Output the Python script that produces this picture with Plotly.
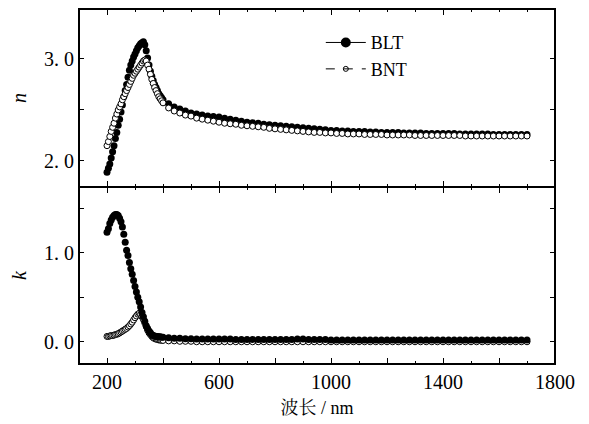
import plotly.graph_objects as go

wavelength = [200, 205, 210, 215, 220, 225, 230, 235, 240, 245, 250, 255, 260, 265, 270, 275, 280, 285, 290, 295,
              300, 305, 310, 315, 320, 325, 330, 335, 340, 345, 350, 355, 360, 365, 370, 375, 380, 385, 390, 395, 400,
              420, 440, 460, 480, 500, 520, 540, 560, 580, 600, 620, 640, 660, 680, 700, 720, 740, 760, 780, 800,
              820, 840, 860, 880, 900, 920, 940, 960, 980, 1000, 1020, 1040, 1060, 1080, 1100, 1120, 1140, 1160, 1180,
              1200, 1220, 1240, 1260, 1280, 1300, 1320, 1340, 1360, 1380, 1400, 1420, 1440, 1460, 1480, 1500, 1520,
              1540, 1560, 1580, 1600, 1620, 1640, 1660, 1680, 1700]

n_blt = [1.89, 1.93, 1.97, 2.03, 2.09, 2.15, 2.22, 2.28, 2.35, 2.41, 2.48, 2.55, 2.63, 2.69, 2.75, 2.82, 2.89, 2.94, 2.98, 3.02,
         3.05, 3.08, 3.11, 3.13, 3.15, 3.16, 3.17, 3.14, 3.08, 3.01, 2.94, 2.88, 2.83, 2.79, 2.75, 2.72, 2.69, 2.66, 2.64, 2.62, 2.60,
         2.56, 2.53, 2.51, 2.49, 2.47, 2.46, 2.45, 2.44, 2.435, 2.43, 2.42, 2.41, 2.40, 2.39, 2.38, 2.375, 2.37, 2.36, 2.355, 2.35,
         2.345, 2.34, 2.335, 2.33, 2.325, 2.32, 2.315, 2.31, 2.305, 2.30, 2.30, 2.295, 2.295, 2.29, 2.29, 2.29, 2.285, 2.285, 2.28,
         2.28, 2.28, 2.28, 2.275, 2.275, 2.275, 2.275, 2.27, 2.27, 2.27, 2.27, 2.27, 2.27, 2.265, 2.265, 2.265, 2.265,
         2.265, 2.265, 2.26, 2.26, 2.26, 2.26, 2.26, 2.26, 2.26]

n_bnt = [2.15, 2.19, 2.24, 2.29, 2.33, 2.37, 2.42, 2.46, 2.50, 2.53, 2.56, 2.60, 2.63, 2.66, 2.69, 2.72, 2.75, 2.78, 2.81, 2.84,
         2.86, 2.88, 2.90, 2.92, 2.94, 2.96, 2.98, 2.99, 2.98, 2.94, 2.90, 2.85, 2.80, 2.76, 2.72, 2.69, 2.66, 2.63, 2.61, 2.59, 2.57,
         2.52, 2.49, 2.47, 2.45, 2.44, 2.42, 2.41, 2.40, 2.39, 2.38, 2.37, 2.365, 2.36, 2.35, 2.345, 2.34, 2.335, 2.33, 2.32, 2.315,
         2.31, 2.305, 2.30, 2.295, 2.29, 2.285, 2.28, 2.28, 2.275, 2.275, 2.27, 2.27, 2.265, 2.265, 2.265, 2.26, 2.26, 2.26, 2.26,
         2.255, 2.255, 2.255, 2.255, 2.255, 2.25, 2.25, 2.25, 2.25, 2.25, 2.25, 2.25, 2.25, 2.25, 2.245, 2.245, 2.245,
         2.245, 2.245, 2.245, 2.245, 2.245, 2.245, 2.245, 2.245, 2.245]

k_blt = [1.23, 1.27, 1.33, 1.37, 1.40, 1.42, 1.43, 1.43, 1.42, 1.39, 1.35, 1.29, 1.21, 1.12, 1.03, 0.97, 0.89, 0.82, 0.76, 0.69,
         0.62, 0.56, 0.50, 0.45, 0.39, 0.33, 0.28, 0.23, 0.18, 0.15, 0.12, 0.10, 0.08, 0.07, 0.065, 0.06, 0.06, 0.055, 0.055, 0.05, 0.05,
         0.045, 0.04, 0.04, 0.035, 0.035, 0.03, 0.03, 0.03, 0.03, 0.03, 0.03, 0.03, 0.025, 0.025, 0.025, 0.025, 0.025, 0.025, 0.025, 0.025,
         0.025, 0.025, 0.025, 0.03, 0.03, 0.025, 0.025, 0.025, 0.025, 0.02, 0.02, 0.02, 0.02, 0.02, 0.02, 0.02, 0.02, 0.02, 0.02,
         0.02, 0.02, 0.02, 0.02, 0.02, 0.02, 0.02, 0.02, 0.02, 0.02, 0.02, 0.02, 0.02, 0.02, 0.02, 0.02, 0.02,
         0.02, 0.02, 0.02, 0.02, 0.02, 0.02, 0.02, 0.02, 0.02]

k_bnt = [0.06, 0.06, 0.065, 0.07, 0.07, 0.075, 0.08, 0.085, 0.09, 0.10, 0.11, 0.12, 0.13, 0.14, 0.15, 0.165, 0.18, 0.20, 0.22, 0.245,
         0.27, 0.29, 0.31, 0.32, 0.31, 0.28, 0.25, 0.21, 0.17, 0.13, 0.10, 0.08, 0.06, 0.045, 0.035, 0.03, 0.025, 0.02, 0.02, 0.015, 0.015,
         0.01, 0.01, 0.005, 0.005, 0.005, 0.0, 0.0, 0.0, 0.0, 0.0, 0.0, 0.0, 0.0, 0.0, 0.0, 0.0, 0.0, 0.0, 0.0, 0.0,
         0.0, 0.0, 0.0, 0.0, 0.0, 0.0, 0.0, 0.0, 0.0, 0.0, 0.0, 0.0, 0.0, 0.0, 0.0, 0.0, 0.0, 0.0, 0.0,
         0.0, 0.0, 0.0, 0.0, 0.0, 0.0, 0.0, 0.0, 0.0, 0.0, 0.0, 0.0, 0.0, 0.0, 0.0, 0.0, 0.0,
         0.0, 0.0, 0.0, 0.0, 0.0, 0.0, 0.0, 0.0, 0.0]

series_names = ["BLT", "BNT"]
x_tickvals = [200, 400, 600, 800, 1000, 1200, 1400, 1600, 1800]
x_ticktext = ["200", "", "600", "", "1000", "", "1400", "", "1800"]
n_tickvals = [2.0, 2.5, 3.0]
n_ticktext = ["2. 0", "", "3. 0"]
k_tickvals = [0.0, 0.5, 1.0, 1.5]
k_ticktext = ["0. 0", "", "1. 0", ""]

SERIF = "Liberation Serif, Times New Roman, serif"
CJK = "Liberation Serif, Noto Serif CJK SC, Noto Sans CJK SC, serif"

filled = dict(symbol="circle", size=7, color="black", line=dict(color="black", width=0))
hollow = dict(symbol="circle", size=6, color="white", line=dict(color="black", width=1))

fig = go.Figure()
# top panel n
fig.add_trace(go.Scatter(x=wavelength, y=n_blt, mode="markers", marker=filled, xaxis="x2", yaxis="y2", showlegend=False))
fig.add_trace(go.Scatter(x=wavelength, y=n_bnt, mode="markers", marker=hollow, xaxis="x2", yaxis="y2", showlegend=False))
# bottom panel k
fig.add_trace(go.Scatter(x=wavelength, y=k_bnt, mode="markers", marker=hollow, xaxis="x", yaxis="y", showlegend=False))
fig.add_trace(go.Scatter(x=wavelength, y=k_blt, mode="markers", marker=filled, xaxis="x", yaxis="y", showlegend=False))
# legend entries
fig.add_trace(go.Scatter(x=[None], y=[None], mode="lines+markers", name=series_names[0],
                         marker=dict(symbol="circle", size=10, color="black"),
                         line=dict(color="black", width=1), xaxis="x2", yaxis="y2"))
fig.add_trace(go.Scatter(x=[None], y=[None], mode="lines+markers", name=series_names[1],
                         marker=dict(symbol="circle-open", size=5, color="black", line=dict(width=1)),
                         line=dict(color="black", width=1, dash="dash"), xaxis="x2", yaxis="y2"))

axis_common = dict(showline=True, linecolor="black", linewidth=1, mirror="ticks", ticks="inside",
                   tickcolor="black", tickwidth=1, showgrid=False, zeroline=False,
                   tickfont=dict(family=SERIF, size=20, color="black"))

fig.update_layout(
    width=589, height=424,
    paper_bgcolor="white", plot_bgcolor="white",
    margin=dict(l=79, r=34, t=9, b=60),
    showlegend=True,
    legend=dict(x=0.508, y=0.957, xanchor="left", yanchor="top", bgcolor="rgba(0,0,0,0)",
                font=dict(family=SERIF, size=18, color="black"), tracegroupgap=0, itemwidth=40),
    xaxis=dict(domain=[0, 1], range=[100, 1800], anchor="y", tickmode="array", tickvals=x_tickvals,
               ticktext=x_ticktext, ticklen=6,
               minor=dict(dtick=100, tick0=0, ticklen=3, ticks="inside", tickcolor="black"),
               title=dict(text="波长 / nm", font=dict(family=CJK, size=18, color="black"), standoff=9),
               **axis_common),
    xaxis2=dict(domain=[0, 1], range=[100, 1800], anchor="y2", matches="x", tickmode="array",
                tickvals=x_tickvals, ticktext=x_ticktext, showticklabels=False, ticklen=6,
                minor=dict(dtick=100, tick0=0, ticklen=3, ticks="inside", tickcolor="black"),
                **axis_common),
    yaxis=dict(domain=[0, 0.4986], range=[-0.25, 1.74], anchor="x", tickmode="array",
               tickvals=k_tickvals, ticktext=k_ticktext, ticklen=5,
               title=dict(text="<i>k</i>", font=dict(family=SERIF, size=20, color="black"), standoff=11),
               **axis_common),
    yaxis2=dict(domain=[0.4986, 1], range=[1.745, 3.49], anchor="x2", tickmode="array",
                tickvals=n_tickvals, ticktext=n_ticktext, ticklen=5,
                title=dict(text="<i>n</i>", font=dict(family=SERIF, size=20, color="black"), standoff=11),
                **axis_common),
    shapes=[dict(type="rect", xref="paper", yref="paper", x0=0, x1=1, y0=0, y1=1,
                 line=dict(color="black", width=2), fillcolor="rgba(0,0,0,0)", layer="above")],
)

fig.write_html("out.html", config={"displayModeBar": False},
               post_script="document.body.style.margin='0';")
